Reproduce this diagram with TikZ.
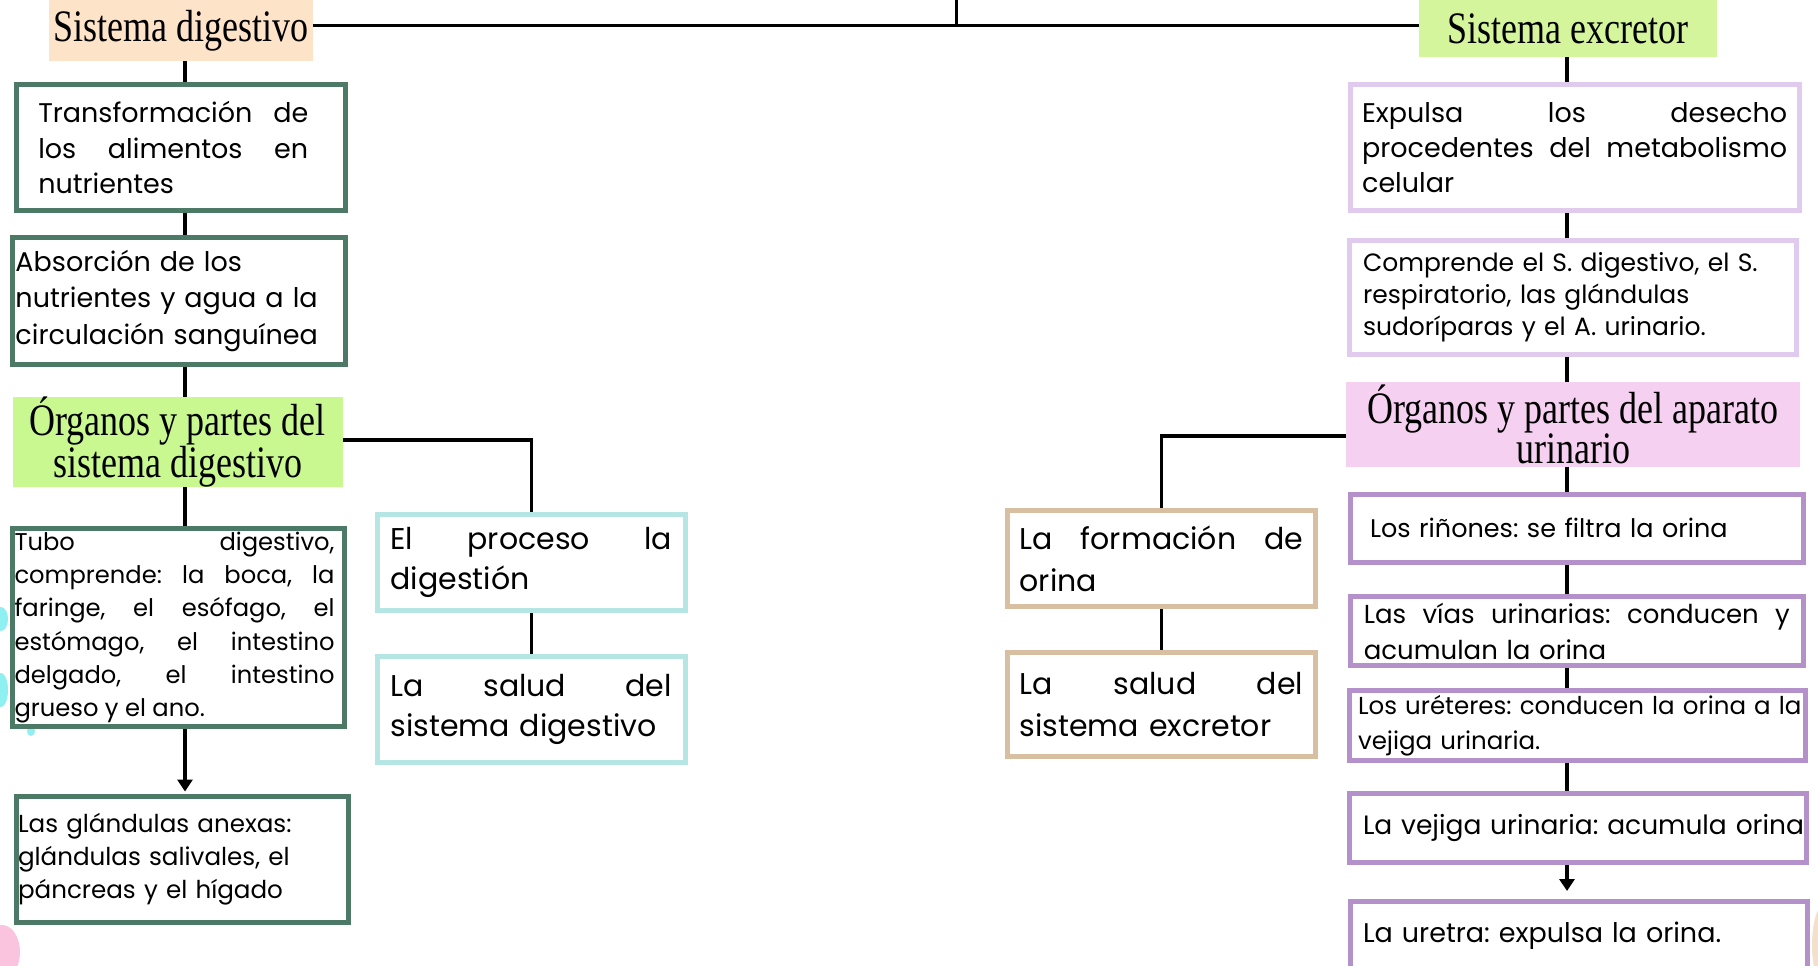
\documentclass[tikz,border=0pt]{standalone}
\usepackage{fontspec}
\setmainfont{Poppins}
\newfontfamily\titulo{Liberation Serif}[FakeStretch=0.80]
\usetikzlibrary{arrows.meta}

\definecolor{verdeosc}{HTML}{4C7A66}
\definecolor{cianbox}{HTML}{B5E6E4}
\definecolor{tostado}{HTML}{D9BFA2}
\definecolor{lavanda}{HTML}{E0CBEF}
\definecolor{morado}{HTML}{B591CC}
\definecolor{melocoton}{HTML}{FDE3C8}
\definecolor{verdeclaro}{HTML}{D4F59B}
\definecolor{verdelima}{HTML}{C8F88F}
\definecolor{rosa}{HTML}{F5D0F0}
\definecolor{manchacian}{HTML}{8EF0F0}
\definecolor{manchorosa}{HTML}{FAC3DE}
\definecolor{manchocre}{HTML}{F3E0CC}

\hyphenpenalty=10000
\exhyphenpenalty=10000
\frenchspacing

\begin{document}
\begin{tikzpicture}
[every node/.style={inner sep=0pt},
 caja/.style={line width=5pt, fill=white, align=left},
 gbox/.style={caja, draw=verdeosc},
 cbox/.style={caja, draw=cianbox},
 tbox/.style={caja, draw=tostado},
 lbox/.style={caja, draw=lavanda},
 pbox/.style={caja, draw=morado},
 head/.style={align=center, font=\titulo\fontsize{45pt}{38pt}\selectfont},
 link/.style={line width=3.5pt},
 flecha/.style={link, -{Triangle[length=12pt, width=15pt]}}]
\useasboundingbox (0pt, 0pt) rectangle (1818pt, -966pt);
\fill [white] (0pt, 0pt) rectangle (1818pt, -966pt);

% manchas del fondo
\fill [manchacian] (1pt, -619pt) ellipse (7pt and 12pt);
\fill [manchacian] (1pt, -690pt) ellipse (7pt and 17pt);
\fill [manchacian] (31pt, -731pt) ellipse (4pt and 5pt);
\fill [manchorosa] (2pt, -952pt) ellipse (18pt and 27pt);
\fill [manchocre] (1824pt, -945pt) ellipse (12pt and 40pt);

% titulos
\node (sisdig) [head, fill=melocoton, minimum width=263.5pt, minimum height=61pt] at (180.75pt, -30.5pt) {Sistema digestivo};
\node (sisexc) [head, fill=verdeclaro, minimum width=297.5pt, minimum height=57pt] at (1567.75pt, -28.5pt) {Sistema excretor};
\node (orgdig) [head, fill=verdelima, minimum width=330.5pt, minimum height=88pt] at (177.75pt, -442pt) {Órganos y partes del\\sistema digestivo};
\node (orgur) [head, fill=rosa, minimum width=454.4pt, minimum height=85pt] at (1573.2pt, -424.2pt) {Órganos y partes del aparato\\urinario};

% sistema digestivo
\node (transf) [gbox, minimum width=329.5pt, minimum height=126.6pt, font=\fontsize{27pt}{35.7pt}\selectfont] at (180.75pt, -147.5pt) {\parbox{270pt}{Transformación\hfill de\\los\hfill alimentos\hfill en\\nutrientes}\hspace{15pt}};
\node (absor) [gbox, minimum width=333pt, minimum height=126.7pt, text width=327pt, font=\fontsize{27pt}{36.5pt}\selectfont] at (179pt, -300.8pt) {Absorción de los\\nutrientes y agua a la\\circulación sanguínea};
\node (tubo) [gbox, minimum width=332pt, minimum height=198pt, font=\fontsize{24.2pt}{33.3pt}\selectfont] at (178.5pt, -627.5pt) {\parbox{320pt}{Tubo\hfill digestivo,\\comprende:\hfill la\hfill boca,\hfill la\\faringe,\hfill el\hfill esófago,\hfill el\\estómago,\hfill el\hfill intestino\\delgado,\hfill el\hfill intestino\\grueso y el ano.}\hspace{8pt}};
\node (anexas) [gbox, minimum width=332pt, minimum height=126pt, text width=328pt, font=\fontsize{24.6pt}{33pt}\selectfont] at (182pt, -859.5pt) {Las glándulas anexas:\\glándulas salivales, el\\páncreas y el hígado};
\node (proceso) [cbox, minimum width=307.5pt, minimum height=96.3pt, text width=281.4pt, font=\fontsize{30pt}{40pt}\selectfont] at (531.25pt, -562.6pt) {El\hfill proceso\hfill la\\digestión};
\node (saluddig) [cbox, minimum width=307.5pt, minimum height=106pt, text width=281.4pt, font=\fontsize{30pt}{40pt}\selectfont] at (531.25pt, -709.5pt) {La\hfill salud\hfill del\\sistema digestivo};

% sistema excretor
\node (expulsa) [lbox, minimum width=448.8pt, minimum height=126.3pt, text width=425pt, font=\fontsize{27pt}{35pt}\selectfont] at (1574.6pt, -147.35pt) {Expulsa\hfill los\hfill desecho\\procedentes\hfill del\hfill metabolismo\\celular};
\node (comprende) [lbox, minimum width=447pt, minimum height=113.7pt, text width=420pt, font=\fontsize{25pt}{32pt}\selectfont] at (1573pt, -297.35pt) {Comprende el S. digestivo, el S.\\respiratorio, las glándulas\\sudoríparas y el A. urinario.};
\node (rinones) [pbox, minimum width=453.1pt, minimum height=68.3pt, text width=413.5pt, font=\fontsize{25.5pt}{30pt}\selectfont] at (1576.75pt, -528.35pt) {\mbox{Los riñones: se filtra la orina}};
\node (vias) [pbox, minimum width=453.3pt, minimum height=68.3pt, text width=426pt, font=\fontsize{26pt}{36pt}\selectfont] at (1576.85pt, -631pt) {Las\hfill vías\hfill urinarias:\hfill conducen\hfill y\\acumulan la orina};
\node (ureteres) [pbox, minimum width=456.3pt, minimum height=70pt, text width=438.7pt, font=\fontsize{24.5pt}{35.3pt}\selectfont] at (1577.35pt, -725.5pt) {\mbox{Los uréteres: conducen la orina a la}\\vejiga urinaria.};
\node (vejiga) [pbox, minimum width=457pt, minimum height=69.3pt, text width=430pt, font=\fontsize{26.5pt}{30pt}\selectfont] at (1578pt, -827.85pt) {\mbox{La vejiga urinaria: acumula orina}};
\node (uretra) [pbox, minimum width=457.3pt, text width=431.7pt, text height=41pt, text depth=58pt, font=\fontsize{27pt}{30pt}\selectfont] at (1578.85pt, -950.5pt) {\mbox{La uretra: expulsa la orina.}};
\node (formacion) [tbox, minimum width=307.8pt, minimum height=96.3pt, text width=283.4pt, font=\fontsize{30pt}{42pt}\selectfont] at (1161.4pt, -558.65pt) {La\hfill formación\hfill de\\orina};
\node (saludexc) [tbox, minimum width=307.8pt, minimum height=104.4pt, text width=283.4pt, font=\fontsize{30pt}{42pt}\selectfont] at (1161.4pt, -704.7pt) {La\hfill salud\hfill del\\sistema excretor};

% conectores
\coordinate (cima) at (956.7pt, 0pt);
\coordinate (cruce) at (956.7pt, -25.5pt);
\coordinate (ejeI) at (185pt, 0pt);
\coordinate (ejeD) at (1567pt, 0pt);
\coordinate (codoI) at (0pt, -440pt);
\coordinate (codoD) at (0pt, -436pt);
\draw [link] (cima) -- (cruce);
\draw [link] (sisdig.east |- cruce) -- (sisexc.west |- cruce);
\draw [link] (sisdig.south -| ejeI) -- (transf.north -| ejeI);
\draw [link] (transf.south -| ejeI) -- (absor.north -| ejeI);
\draw [link] (absor.south -| ejeI) -- (orgdig.north -| ejeI);
\draw [link] (orgdig.south -| ejeI) -- (tubo.north -| ejeI);
\draw [flecha, shorten >=2.5pt] (tubo.south -| ejeI) -- (anexas.north -| ejeI);
\draw [link] (orgdig.east |- codoI) -| (proceso.north);
\draw [link] (proceso) -- (saluddig);
\draw [link] (sisexc.south -| ejeD) -- (expulsa.north -| ejeD);
\draw [link] (expulsa.south -| ejeD) -- (comprende.north -| ejeD);
\draw [link] (comprende.south -| ejeD) -- (orgur.north -| ejeD);
\draw [link] (orgur.south -| ejeD) -- (rinones.north -| ejeD);
\draw [link] (rinones.south -| ejeD) -- (vias.north -| ejeD);
\draw [link] (vias.south -| ejeD) -- (ureteres.north -| ejeD);
\draw [link] (ureteres.south -| ejeD) -- (vejiga.north -| ejeD);
\draw [flecha, shorten >=7.5pt] (vejiga.south -| ejeD) -- (uretra.north -| ejeD);
\draw [link] (orgur.west |- codoD) -| (formacion.north);
\draw [link] (formacion) -- (saludexc);
\end{tikzpicture}
\end{document}
